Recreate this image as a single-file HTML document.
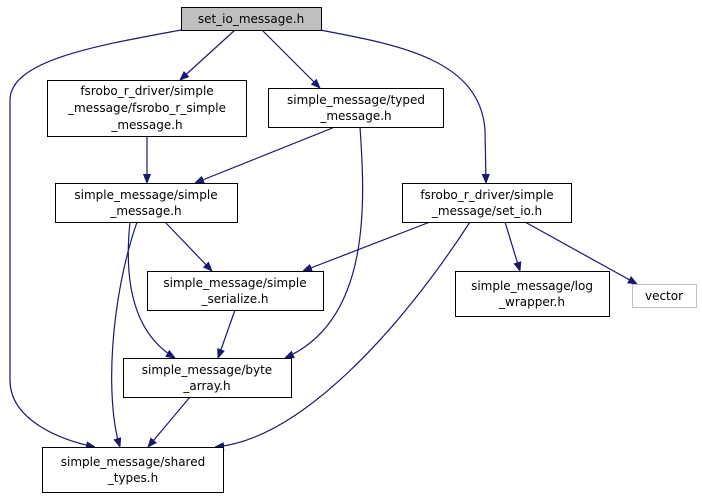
<!DOCTYPE html>
<html><head><meta charset="utf-8"><style>
html,body{margin:0;padding:0;background:#fff;}
svg text{font-family:"DejaVu Sans","Liberation Sans",sans-serif;font-size:12px;fill:#000;}
</style></head><body>
<svg width="702" height="499" viewBox="0 0 702 499" xmlns="http://www.w3.org/2000/svg">
<defs>
<marker id="a" viewBox="0 0 10 10" refX="10" refY="5" markerWidth="9" markerHeight="9" markerUnits="userSpaceOnUse" orient="auto">
<path d="M0,1 L10,5 L0,9 z" fill="#191970" stroke="#191970"/>
</marker>
</defs>
<g fill="none" stroke="#191970" stroke-width="1.2" marker-end="url(#a)">
<path d="M235,30 L180,80"/>
<path d="M262,30 L320,88"/>
<path d="M320,30 C400,45 480,60 485,130 L486,183"/>
<path d="M181,30 C100,45 10,60 10,100 L10,380 C10,420 60,440 95,447"/>
<path d="M147,136 L147,183"/>
<path d="M335,127 L195,183"/>
<path d="M360,127 C365,200 372,320 285,358"/>
<path d="M165,222 L212,271"/>
<path d="M130,222 C125,270 128,330 175,358"/>
<path d="M137,222 C110,300 105,400 120,447"/>
<path d="M430,222 L303,271"/>
<path d="M505,222 L520,271"/>
<path d="M525,222 L637,284"/>
<path d="M470,222 C400,330 300,440 215,447"/>
<path d="M235,310 L218,358"/>
<path d="M190,397 L148,447"/>
</g>
<g stroke="#000" stroke-width="1" fill="#fff">
<rect x="181.5" y="7.5" width="140" height="23" fill="#bfbfbf"/>
<rect x="47.5" y="80.5" width="199" height="56"/>
<rect x="268.5" y="88.5" width="175" height="39"/>
<rect x="55.5" y="183.5" width="182" height="39"/>
<rect x="402.5" y="183.5" width="169" height="39"/>
<rect x="147.5" y="271.5" width="176" height="39"/>
<rect x="455.5" y="271.5" width="154" height="45"/>
<rect x="632.5" y="284.5" width="64" height="23" stroke="#bfbfbf"/>
<rect x="123.5" y="358.5" width="168" height="39"/>
<rect x="42.5" y="447.5" width="181" height="45"/>
</g>
<g text-anchor="middle">
<text x="251" y="23">set_io_message.h</text>
<text x="147" y="95">fsrobo_r_driver/simple</text>
<text x="147" y="112">_message/fsrobo_r_simple</text>
<text x="147" y="129">_message.h</text>
<text x="356" y="104">simple_message/typed</text>
<text x="356" y="120">_message.h</text>
<text x="146" y="199">simple_message/simple</text>
<text x="146" y="215">_message.h</text>
<text x="487" y="199">fsrobo_r_driver/simple</text>
<text x="487" y="215">_message/set_io.h</text>
<text x="235" y="287">simple_message/simple</text>
<text x="235" y="303">_serialize.h</text>
<text x="532" y="290">simple_message/log</text>
<text x="532" y="306">_wrapper.h</text>
<text x="664" y="300">vector</text>
<text x="207" y="374">simple_message/byte</text>
<text x="207" y="390">_array.h</text>
<text x="133" y="466">simple_message/shared</text>
<text x="133" y="482">_types.h</text>
</g>
</svg>
</body></html>
